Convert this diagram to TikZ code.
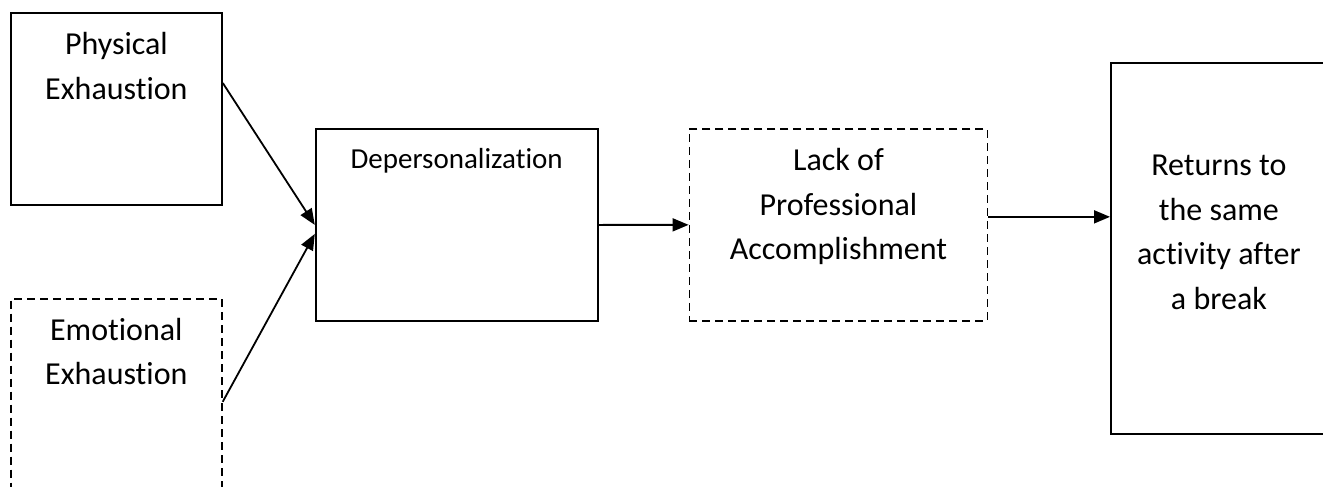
\documentclass[tikz,border=0pt]{standalone}
\usepackage{fontspec}
\setmainfont{Carlito}[Ligatures=NoCommon]
\usetikzlibrary{positioning, arrows.meta}

\begin{document}
\begin{tikzpicture}[x=0.5pt, y=-0.5pt,
     >={Triangle[length=8pt,width=6.5pt]},
      lbl/.style = {anchor=north, align=center, inner sep=0pt,
                    font=\fontsize{16}{22.2}\selectfont},
      box/.style = {rectangle, draw, line width=0.9pt, inner sep=0pt},
     dbox/.style = {box, line width=0.85pt, dash pattern=on 4pt off 2.5pt},
     link/.style = {->, line width=0.9pt}
                    ]
\useasboundingbox (0,0) rectangle (1323,487);
\node (phys) [box, anchor=north west, minimum width=105.5pt, minimum height=96pt,
              label={[lbl, yshift=-10pt]north:{Physical\\Exhaustion}}] at (10,12) {};
\node (emo)  [dbox, below right=46pt and 0pt of phys.south west,
              minimum width=105.5pt, minimum height=100pt,
              label={[lbl, yshift=-10pt]north:{Emotional\\Exhaustion}}] {};
\node (dep)  [box, below right=58pt and 46pt of phys.north east,
              minimum width=141pt, minimum height=96pt,
              label={[lbl, yshift=-10pt, font=\fontsize{14.5}{20}\selectfont]north:Depersonalization}] {};
\node (lack) [dbox, below right=0pt and 45pt of dep.north east,
              minimum width=149pt, minimum height=96pt,
              label={[lbl, yshift=-10pt]north:{Lack of\\Professional\\Accomplishment}}] {};
\node (ret)  [box, anchor=north west, minimum width=108pt, minimum height=185.5pt,
              label={[lbl, yshift=-46.5pt]north:{Returns to\\the same\\activity after\\a break}}] at (1110,62) {};
% connectors
\draw[link] ([yshift=-35.5pt]phys.north east) to (dep.west);
\draw[link] ([yshift=-52pt]emo.north east) to ([yshift=-4.5pt]dep.west);
\draw[link] (dep.east) to (lack.west);
\draw[link] ([yshift=4pt]lack.east) to ([yshift=4pt]lack.east -| ret.west);
\end{tikzpicture}
\end{document}
